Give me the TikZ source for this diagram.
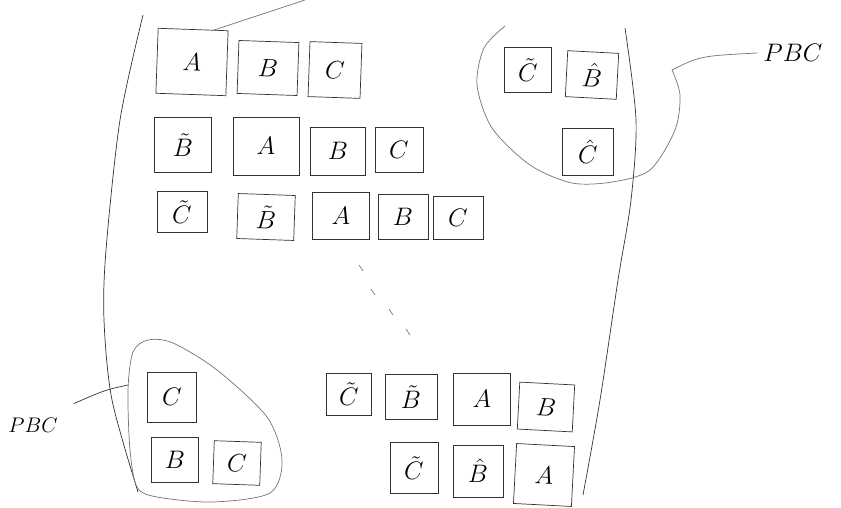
\documentclass[tikz,border=0pt]{standalone}
\usepackage{amsmath,amssymb}
\usetikzlibrary{calc}

\tikzset{
  blk/.style={draw=black!80, thin, inner sep=0pt, font=\Large},
  grp/.style={draw=black!55, thin},
  lbl/.style={font=\large}
}

\begin{document}
\begin{tikzpicture}[x=0.02cm,y=-0.02cm]
\useasboundingbox (0,0) rectangle (841,507);

%外枠
\draw[black!80] plot[smooth] coordinates {(143,15)(120,120)(106,250)(104,320)(112,400)(138,492)}; %左
\draw[black!80] plot[smooth] coordinates {(625,28)(636,120)(631,200)(618,280)(600,400)(583,495)}; %右

%1段目
\node[blk,minimum width=1.4cm,minimum height=1.3cm,rotate=-2] (a1) at (192,62) {$A$};
\node[blk,minimum width=1.2cm,minimum height=1.06cm,rotate=-2] (b1) at (268,68) {$B$};
\node[blk,minimum width=1.04cm,minimum height=1.1cm,rotate=-2] (c1) at (335,70) {$C$};

%2段目
\node[blk,minimum width=1.14cm,minimum height=1.1cm] (b2t) at (183,145) {$\tilde{B}$};
\node[blk,minimum width=1.32cm,minimum height=1.16cm] (a2) at (266,146) {$A$};
\node[blk,minimum width=1.1cm,minimum height=0.96cm] (b2) at (338,151) {$B$};
\node[blk,minimum width=0.96cm,minimum height=0.9cm] (c2) at (399,150) {$C$};

%3段目
\node[blk,minimum width=1.0cm,minimum height=0.82cm] (c3t) at (182,212) {$\tilde{C}$};
\node[blk,minimum width=1.14cm,minimum height=0.9cm,rotate=-2] (b3t) at (266,217) {$\tilde{B}$};
\node[blk,minimum width=1.14cm,minimum height=0.94cm] (a3) at (341,216) {$A$};
\node[blk,minimum width=1.0cm,minimum height=0.9cm] (b3) at (403,217) {$B$};
\node[blk,minimum width=1.0cm,minimum height=0.86cm] (c3) at (458,218) {$C$};

%点々
\foreach \px/\py in {361/268, 373/292, 391/312, 408/332}
  \draw[black!50] (\px-2,\py-3) -- (\px+2,\py+3);

%4段目
\node[blk,minimum width=0.9cm,minimum height=0.84cm] (c4t) at (349,394) {$\tilde{C}$};
\node[blk,minimum width=1.04cm,minimum height=0.9cm] (b4t) at (411,397) {$\tilde{B}$};
\node[blk,minimum width=1.14cm,minimum height=1.04cm] (a4) at (482,399) {$A$};
\node[blk,minimum width=1.1cm,minimum height=0.94cm,rotate=-3] (b4) at (546,407) {$B$};

%5段目
\node[blk,minimum width=0.96cm,minimum height=1.02cm] (c5t) at (414,468) {$\tilde{C}$};
\node[blk,minimum width=1.0cm,minimum height=1.04cm] (b5h) at (478,471) {$\hat{B}$};
\node[blk,minimum width=1.16cm,minimum height=1.2cm,rotate=-3] (a5) at (544,475) {$A$};

%右上の組
\node[blk,minimum width=0.94cm,minimum height=0.9cm] (tc1) at (528,70) {$\tilde{C}$};
\node[blk,minimum width=1.02cm,minimum height=0.92cm,rotate=-3] (tb1) at (592,75) {$\hat{B}$};
\node[blk,minimum width=1.02cm,minimum height=0.94cm] (tc2) at (588,152) {$\hat{C}$};
\draw[grp] plot[smooth] coordinates {(505,26)(484,48)(477,85)(492,128)(530,165)(572,183)(612,182)(650,170)(675,130)(680,95)(672,70)};
\coordinate (pr) at (672,70);
\node[lbl,font=\Large] (pbc1) at (793,53) {$PBC$};
\draw[grp] (pr) .. controls (700,56) .. (pbc1.west);

%左下の組
\node[blk,minimum width=0.98cm,minimum height=1.0cm] (lc1) at (172,397) {$C$};
\node[blk,minimum width=0.94cm,minimum height=0.9cm] (lb1) at (175,460) {$B$};
\node[blk,minimum width=0.94cm,minimum height=0.86cm,rotate=-2] (lc2) at (237,463) {$C$};
\draw[grp] plot[smooth cycle] coordinates {(128,390)(133,352)(148,340)(173,343)(217,370)(267,417)(282,460)(270,493)(213,502)(157,497)(137,487)(130,450)};
\coordinate (pl) at (128,385);
\node[lbl] (pbc2) at (33,425) {$PBC$};
\draw[black!80] (pl) .. controls (105,390) .. ($(pbc2.north east)+(10,-8)$);

%上の線
\coordinate (tt) at (305,0);
\draw[grp] ($(a1.north)!0.6!(a1.north east)$) -- (tt);
\end{tikzpicture}
\end{document}
